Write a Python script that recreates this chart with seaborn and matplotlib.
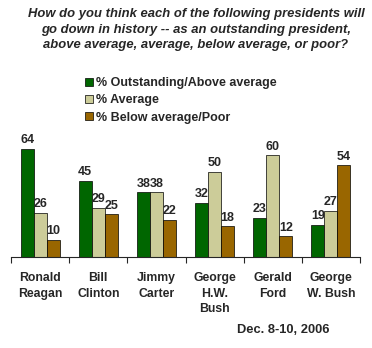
import matplotlib
matplotlib.use("Agg")
import matplotlib.pyplot as plt
import seaborn as sns
import pandas as pd
import numpy as np

presidents = ["Ronald\nReagan", "Bill\nClinton", "Jimmy\nCarter", "George\nH.W.\nBush", "Gerald\nFord", "George\nW. Bush"]
series = ["% Outstanding/Above average", "% Average", "% Below average/Poor"]
outstanding = [64, 45, 38, 32, 23, 19]
average = [26, 29, 38, 50, 60, 27]
below = [10, 25, 22, 18, 12, 54]
colors = ["#006600", "#CCCC99", "#996600"]
title = ("How do you think each of the following presidents will\n"
         "go down in history -- as an outstanding president,\n"
         "above average, average, below average, or poor?")
date_note = "Dec. 8-10, 2006"

sns.set_style("white")
plt.rcParams["font.family"] = ["Liberation Sans", "DejaVu Sans"]

rows = []
for s, vals in zip(series, [outstanding, average, below]):
    for p, v in zip(presidents, vals):
        rows.append({"President": p, "Series": s, "Value": v})
df = pd.DataFrame(rows)

fig = plt.figure(figsize=(3.72, 3.48), dpi=100)
ax = fig.add_axes([11/372, 91.3/348, 349/372, 118.3/348])
sns.barplot(data=df, x="President", y="Value", hue="Series", order=presidents,
            hue_order=series, palette=colors, width=0.67, edgecolor="black",
            linewidth=0.5, ax=ax, errorbar=None, saturation=1)
ax.set_ylim(0, 70)
ax.set_xlim(-0.5, 5.5)
for c in ax.containers:
    ax.bar_label(c, fmt="%d", padding=2, fontsize=9, fontweight="bold", clip_on=False)

for sp in ["top", "right", "left"]:
    ax.spines[sp].set_visible(False)
ax.spines["bottom"].set_linewidth(0.8)
ax.set_yticks([])
ax.set_xlabel("")
ax.set_ylabel("")
ax.set_xticks(range(len(presidents)))
ax.set_xticklabels(presidents, fontsize=8.8, fontweight="bold", linespacing=1.4)
ax.set_xticks(np.arange(-0.5, 6, 1), minor=True)
ax.tick_params(axis="x", which="major", length=0, pad=11)
ax.tick_params(axis="x", which="minor", length=4, width=0.8, direction="out", bottom=True)

leg = ax.legend(loc="upper left", bbox_to_anchor=(85/372, 1 - 77/348), bbox_transform=fig.transFigure,
                frameon=False, fontsize=9, handlelength=0.62, handleheight=0.62,
                handletextpad=0.3, labelspacing=0.42, borderpad=0, borderaxespad=0)
for t in leg.get_texts():
    t.set_fontweight("bold")
for h in leg.legend_handles:
    h.set_edgecolor("black")
    h.set_linewidth(0.5)

fig.text(196/372, 1 - 8/348, title, ha="center", va="top", fontsize=9.4,
         fontweight="bold", fontstyle="italic", linespacing=1.4)
fig.text(283/372, 1 - 330/348, date_note, ha="center", va="center", fontsize=9.3, fontweight="bold")

fig.savefig("out.png", dpi=100)
